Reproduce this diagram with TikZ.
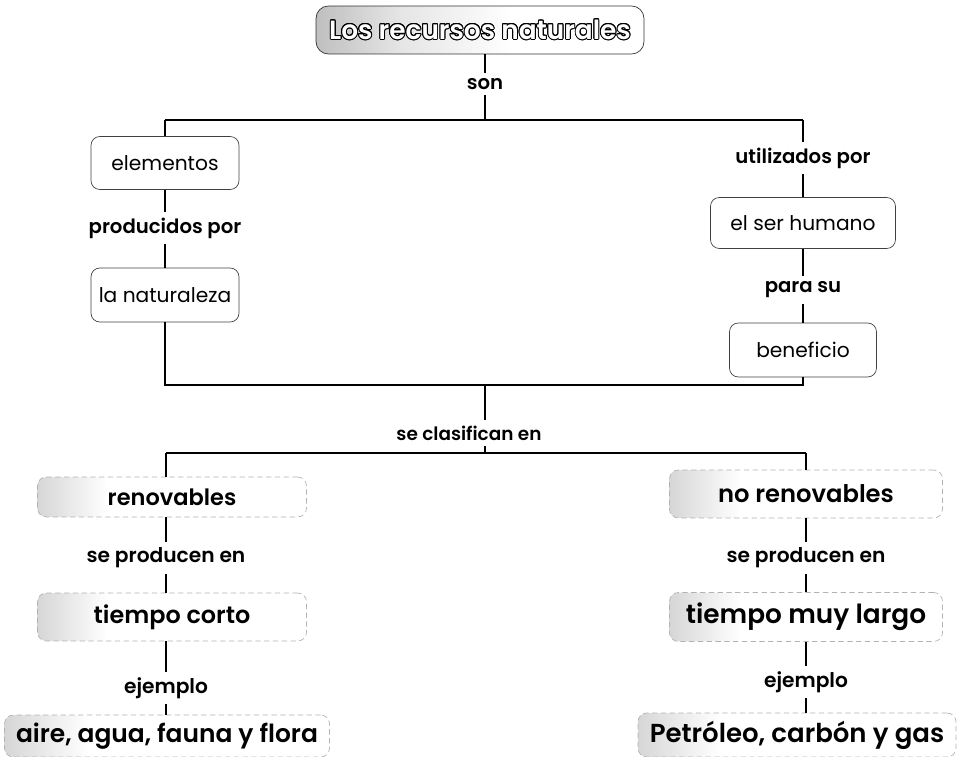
\documentclass[tikz,border=0pt]{standalone}
\usepackage{fontspec}
\setmainfont{Poppins}
\newfontfamily\medfont{Poppins}[UprightFont=* SemiBold]
\usepackage{contour}
\usetikzlibrary{positioning,shapes,fit}
\usepackage{xcolor}
\contourlength{0.55pt}
\pgfdeclarehorizontalshading{leftfade}{100bp}{color(0bp)=(gray!32); color(25bp)=(gray!32); color(38bp)=(white); color(100bp)=(white)}
\pgfdeclarehorizontalshading{titlefade}{100bp}{color(0bp)=(gray!50); color(25bp)=(gray!50); color(38bp)=(gray!20); color(55bp)=(white); color(100bp)=(white)}
\tikzset{
  box/.style={draw=black!75, rounded corners=5pt, inner sep=0pt, font=\fontsize{11.5}{13}\selectfont},
  grbox/.style={draw=gray!60, densely dashed, rounded corners=5pt, inner sep=0pt, shading=leftfade},
  lbl/.style={inner sep=3pt, font=\medfont\fontsize{11.2}{12}\selectfont},
  lowlbl/.style={inner sep=3pt, font=\medfont\fontsize{11.5}{12}\selectfont},
  bar/.style={line width=1pt}
}
\newcommand{\fs}[1]{\medfont\fontsize{#1}{#1}\selectfont}

\begin{document}
\begin{tikzpicture}[x=0.02cm, y=-0.02cm]
      \useasboundingbox (0,0) rectangle (958,757);
      \node[draw=black!80, rounded corners=7pt, shading=titlefade, minimum width=6.56cm, minimum height=0.96cm, font=\medfont\fontsize{15}{18}\selectfont] (title) at (480,30) {\textcolor{white}{\contour{black}{Los recursos naturales}}};
      \node[lbl] (son) at (485,84) {son};
      \coordinate (tl) at (165,120);
      \coordinate (tr) at (803,120);
      \coordinate (bl) at (165,385);
      \coordinate (br) at (803,385);
      \coordinate (mb) at (485,385);
      % left column
      \node[box, minimum width=2.96cm, minimum height=1.06cm] (elem) at (165,163) {elementos};
      \node[lbl] (prod) at (165,228) {producidos por};
      \node[box, minimum width=2.96cm, minimum height=1.08cm] (natur) at (165,295) {la naturaleza};
      % right column
      \node[lbl] (util) at (803,158) {utilizados por};
      \node[box, minimum width=3.7cm, minimum height=1.02cm] (human) at (803,223) {el ser humano};
      \node[lbl] (para) at (803,290) {para su};
      \node[box, minimum width=2.94cm, minimum height=1.08cm] (benef) at (803,350) {beneficio};
      \draw[bar] (son |- title.south) -- (son.north);
      \draw[bar] (son.south) -- (son |- tl);
      \draw[bar] (tl) -- (tr);
      \draw[bar] (tl) -- (elem.north);
      \draw[bar] (elem.south) -- (prod.north);
      \draw[bar] (prod.south) -- (natur.north);
      \draw[bar] (natur.south) -- (bl) -- (br) -- (benef.south);
      \draw[bar] (tr) -- (util.north);
      \draw[bar] (util.south) -- (human.north);
      \draw[bar] (human.south) -- (para.north);
      \draw[bar] (para.south) -- (benef.north);
      % classification
      \node[lowlbl, font=\medfont\fontsize{10.5}{12}\selectfont] (clas) at (469,433) {se clasifican en};
      \coordinate (ll) at (166,453);
      \coordinate (lr) at (806,453);
      \draw[bar] (mb) -- (mb |- clas.north);
      \draw[bar] (mb |- clas.south) -- (mb |- ll);
      \draw[bar] (ll) -- (lr);
      % renovables
      \node[grbox, minimum width=5.38cm, minimum height=0.8cm, font=\fs{12.8}] (renov) at (172,497) {renovables};
      \node[lowlbl] (prodL) at (166,558) {se producen en};
      \node[grbox, minimum width=5.38cm, minimum height=0.96cm, font=\fs{13.6}] (corto) at (172,617) {tiempo corto};
      \node[lowlbl] (ejL) at (166,688) {ejemplo};
      \node[grbox, minimum width=6.5cm, minimum height=0.84cm, font=\fs{14.2}] (aire) at (167,736) {aire, agua, fauna y flora};
      \draw[bar] (ll) -- (ll |- renov.north);
      \draw[bar] (ll |- renov.south) -- (prodL.north);
      \draw[bar] (prodL.south) -- (prodL |- corto.north);
      \draw[bar] (prodL |- corto.south) -- (ejL.north);
      \draw[bar] (ejL.south) -- (ejL |- aire.north);
      % no renovables
      \node[grbox, minimum width=5.46cm, minimum height=0.96cm, font=\fs{13.8}] (norenov) at (806,494) {no renovables};
      \node[lowlbl] (prodR) at (806,558) {se producen en};
      \node[grbox, minimum width=5.46cm, minimum height=0.98cm, font=\fs{15}] (largo) at (806,617) {tiempo muy largo};
      \node[lowlbl] (ejR) at (806,682) {ejemplo};
      \node[grbox, minimum width=6.36cm, minimum height=0.88cm, font=\fs{14.8}] (petro) at (797,735) {Petróleo, carbón y gas};
      \draw[bar] (lr) -- (norenov.north);
      \draw[bar] (norenov.south) -- (prodR.north);
      \draw[bar] (prodR.south) -- (largo.north);
      \draw[bar] (largo.south) -- (ejR.north);
      \draw[bar] (ejR.south) -- (ejR |- petro.north);
\end{tikzpicture}
\end{document}
